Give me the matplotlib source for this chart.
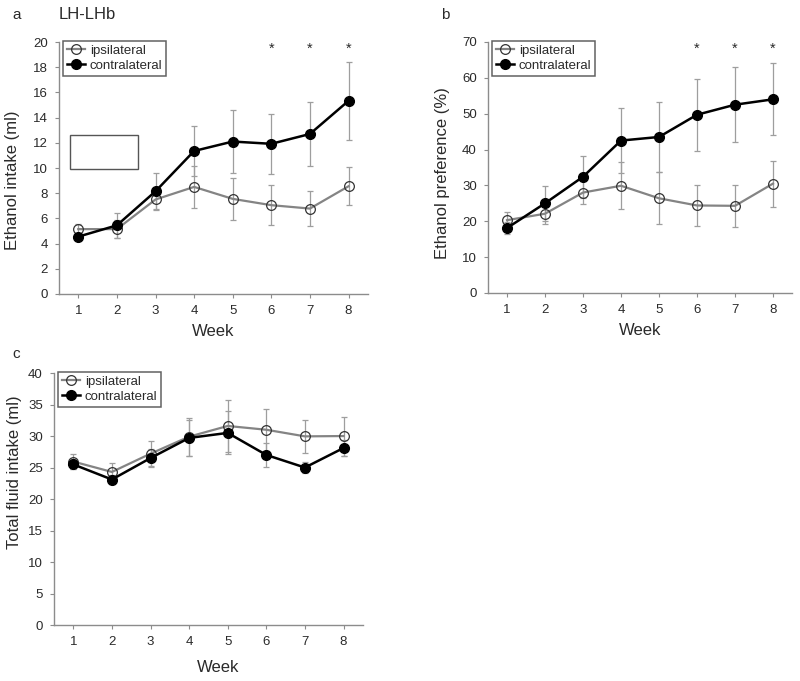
"""
LH-LHb ethanol intake / preference / total fluid figure (panels a, b, c).
"""

import matplotlib
matplotlib.use('Agg')
import matplotlib.pyplot as plt
from matplotlib.patches import Rectangle
import numpy as np

plt.rcParams['font.family'] = ['Liberation Sans', 'DejaVu Sans']
plt.rcParams['font.size'] = 9

# ---- data ----
weeks = [1, 2, 3, 4, 5, 6, 7, 8]

# a: ethanol intake (ml)
intake_ipsi = [5.15, 5.15, 7.5, 8.5, 7.55, 7.05, 6.78, 8.55]
intake_ipsi_err = [0.4, 0.7, 0.8, 1.65, 1.65, 1.6, 1.4, 1.52]
intake_contra = [4.55, 5.45, 8.15, 11.35, 12.1, 11.92, 12.7, 15.33]
intake_contra_err = [0.3, 1.0, 1.42, 2.0, 2.47, 2.4, 2.52, 3.07]
intake_sig = [6, 7, 8]

# b: ethanol preference (%)
pref_ipsi = [20.3, 22.1, 28.0, 29.9, 26.4, 24.4, 24.3, 30.5]
pref_ipsi_err = [2.2, 2.9, 3.3, 6.5, 7.3, 5.8, 5.9, 6.4]
pref_contra = [18.1, 25.0, 32.4, 42.5, 43.5, 49.7, 52.5, 54.0]
pref_contra_err = [1.7, 4.8, 5.9, 9.1, 9.8, 10.0, 10.5, 10.0]
pref_sig = [6, 7, 8]

# c: total fluid intake (ml)
fluid_ipsi = [25.95, 24.3, 27.2, 29.9, 31.6, 31.0, 29.95, 30.0]
fluid_ipsi_err = [1.25, 1.35, 2.0, 3.0, 4.2, 3.3, 2.6, 3.1]
fluid_contra = [25.5, 23.1, 26.5, 29.7, 30.5, 27.0, 25.0, 28.1]
fluid_contra_err = [0.8, 0.7, 1.4, 2.9, 3.4, 1.9, 0.85, 1.3]

GRAY_LINE = '#848484'
ERR_COLOR = '#9e9e9e'
SPINE = '#8c8c8c'
TEXT = '#2a2a2a'


def draw_panel(ax, ipsi, ipsi_err, contra, contra_err, ymax, ystep, ylabel, sig=None):
    ax.errorbar(weeks, ipsi, yerr=ipsi_err, fmt='none', ecolor=ERR_COLOR,
                elinewidth=0.9, capsize=2.5, capthick=0.9, zorder=1)
    ax.errorbar(weeks, contra, yerr=contra_err, fmt='none', ecolor=ERR_COLOR,
                elinewidth=0.9, capsize=2.5, capthick=0.9, zorder=1)
    ax.plot(weeks, ipsi, color=GRAY_LINE, linewidth=1.6, marker='o', markersize=7,
            markerfacecolor='none', markeredgecolor='#333333', markeredgewidth=0.9,
            label='ipsilateral', zorder=3)
    ax.plot(weeks, contra, color='black', linewidth=1.8, marker='o', markersize=7,
            markerfacecolor='black', markeredgecolor='black',
            label='contralateral', zorder=4)

    if sig:
        for w in sig:
            ax.text(w, ymax * 0.972, '*', ha='center', va='center',
                    fontsize=10.5, color=TEXT)

    ax.set_xlim(0.5, 8.5)
    ax.set_ylim(0, ymax)
    ax.set_xticks(weeks)
    ax.set_yticks(np.arange(0, ymax + 0.1, ystep))
    ax.set_yticklabels([f'{int(v)}' for v in np.arange(0, ymax + 0.1, ystep)])

    for side in ['top', 'right']:
        ax.spines[side].set_visible(False)
    for side in ['left', 'bottom']:
        ax.spines[side].set_color(SPINE)
        ax.spines[side].set_linewidth(1.0)
    ax.tick_params(direction='out', length=3, width=0.8, color=SPINE,
                   labelcolor=TEXT, labelsize=9.5, pad=5)

    ax.set_xlabel('Week', fontsize=12, color=TEXT)
    ax.set_ylabel(ylabel, fontsize=12, color=TEXT)

    leg = ax.legend(loc='upper left', bbox_to_anchor=(0.012, 1.005),
                    borderaxespad=0, fontsize=9.5, frameon=True, fancybox=False,
                    handlelength=1.4, handletextpad=0.35, borderpad=0.3,
                    labelspacing=0.2, labelcolor=TEXT)
    leg.get_frame().set_edgecolor('#3a3a3a')
    leg.get_frame().set_linewidth(1.1)


fig = plt.figure(figsize=(8.0, 6.81), dpi=100)

ax_a = fig.add_axes([0.07375, 0.5683, 0.386, 0.370])
ax_b = fig.add_axes([0.610, 0.5698, 0.380, 0.3686])
ax_c = fig.add_axes([0.0675, 0.0822, 0.386, 0.370])

draw_panel(ax_a, intake_ipsi, intake_ipsi_err, intake_contra, intake_contra_err,
           20, 2, 'Ethanol intake (ml)', sig=intake_sig)
draw_panel(ax_b, pref_ipsi, pref_ipsi_err, pref_contra, pref_contra_err,
           70, 10, 'Ethanol preference (%)', sig=pref_sig)
draw_panel(ax_c, fluid_ipsi, fluid_ipsi_err, fluid_contra, fluid_contra_err,
           40, 5, 'Total fluid intake (ml)')

# label placement
ax_a.yaxis.set_label_coords(-0.126, 0.452)
ax_b.yaxis.set_label_coords(-0.125, 0.476)
ax_c.yaxis.set_label_coords(-0.104, 0.605)
ax_a.xaxis.set_label_coords(0.5, -0.12)
ax_b.xaxis.set_label_coords(0.5, -0.12)
ax_c.xaxis.set_label_coords(0.53, -0.138)

# empty box in panel a
box_x, box_y, box_w, box_h = 0.776, 9.92, 1.76, 2.70
ax_a.add_patch(Rectangle((box_x, box_y), box_w, box_h, fill=False,
                         edgecolor='#555555', linewidth=1.0, zorder=2))

# panel letters
fig.text(0.015, 0.972, 'a', fontsize=11, color=TEXT)
fig.text(0.073, 0.972, 'LH-LHb', fontsize=12, color=TEXT)
fig.text(0.551, 0.972, 'b', fontsize=11, color=TEXT)
fig.text(0.016, 0.474, 'c', fontsize=11, color=TEXT)

plt.savefig('out.png', dpi=100, facecolor='white')
plt.close()
